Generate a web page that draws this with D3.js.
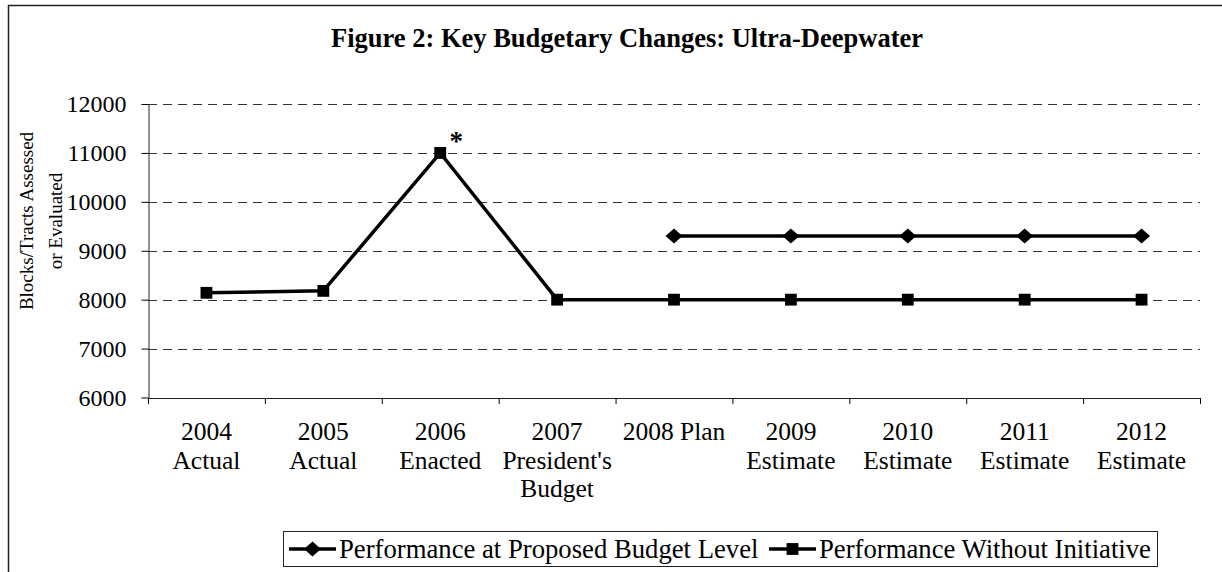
<!DOCTYPE html>
<meta charset="utf-8">
<style>
body { margin: 0; background: #fff; }
svg { display: block; }
text { font-family: "Liberation Serif", "Times New Roman", serif; fill: #000; }
</style>
<svg width="1222" height="572"></svg>
<script src="https://cdn.jsdelivr.net/npm/d3@7"></script>
<script>

// chart data
var categories = ["2004 Actual", "2005 Actual", "2006 Enacted", "2007 President's Budget",
  "2008 Plan", "2009 Estimate", "2010 Estimate", "2011 Estimate", "2012 Estimate"];
var categoryLines = [
  ["2004", "Actual"], ["2005", "Actual"], ["2006", "Enacted"], ["2007", "President's", "Budget"],
  ["2008 Plan"], ["2009", "Estimate"], ["2010", "Estimate"], ["2011", "Estimate"], ["2012", "Estimate"]
];
var proposedValues = [null, null, null, null, 9300, 9300, 9300, 9300, 9300];
var withoutValues = [8140, 8180, 11000, 8000, 8000, 8000, 8000, 8000, 8000];
var yTicks = [6000, 7000, 8000, 9000, 10000, 11000, 12000];
var seriesNames = ["Performance at Proposed Budget Level", "Performance Without Initiative"];

var svg = d3.select("svg");

var plotLeft = 148, plotRight = 1200, plotTop = 104, plotBottom = 397.5;

var x = d3.scaleBand().domain(categories).range([plotLeft, plotRight]);
var xEdge = d3.scaleLinear().domain([0, categories.length]).range([plotLeft, plotRight]);
var y = d3.scaleLinear().domain([6000, 12000]).range([plotBottom, plotTop]);

function cx(c) { return x(c) + x.bandwidth() / 2; }

// outer frame, cut off at right and bottom
svg.append("path")
    .attr("d", "M8.5,600V5.5H1230")
    .attr("fill", "none")
    .attr("stroke", "#222")
    .attr("stroke-width", 1.5);

svg.append("text")
    .attr("x", 627)
    .attr("y", 47)
    .attr("text-anchor", "middle")
    .style("font-weight", "bold")
    .style("font-size", "26.5px")
    .text("Figure 2: Key Budgetary Changes: Ultra-Deepwater");

// gridlines
svg.append("g")
    .selectAll("line")
    .data(yTicks.slice(1))
    .enter().append("line")
      .attr("x1", plotLeft)
      .attr("x2", plotRight)
      .attr("y1", function(d) { return Math.round(y(d)) + 0.5; })
      .attr("y2", function(d) { return Math.round(y(d)) + 0.5; })
      .attr("stroke", "#333")
      .attr("stroke-dasharray", "9,6");

// y axis
var yAxis = svg.append("g")
    .attr("transform", "translate(" + (plotLeft + 0.5) + ",0)")
    .call(d3.axisLeft(y).tickValues(yTicks).tickSize(7).tickSizeOuter(0).tickPadding(15)
      .tickFormat(function(d) { return d; }));
yAxis.selectAll("text").style("font-size", "24px").style("font-family", "Liberation Serif");
yAxis.select(".domain").attr("stroke", "#222");

// x axis, ticks between categories
var xAxis = svg.append("g")
    .attr("transform", "translate(0," + (plotBottom + 0.5) + ")")
    .call(d3.axisBottom(xEdge).tickValues(d3.range(categories.length + 1)).tickSize(6)
      .tickSizeOuter(0).tickFormat(""));
xAxis.select(".domain").attr("stroke", "#222");

var xLabels = svg.append("g")
    .selectAll("text")
    .data(categories)
    .enter().append("text")
      .attr("text-anchor", "middle")
      .style("font-size", "25.5px")
      .attr("y", 440);
xLabels.each(function(d, i) {
  var t = d3.select(this);
  categoryLines[i].forEach(function(line, j) {
    t.append("tspan")
        .attr("x", cx(d))
        .attr("dy", j === 0 ? 0 : 28.5)
        .text(line);
  });
});

// y axis title
svg.append("text")
    .attr("transform", "translate(33,221) rotate(-90)")
    .attr("text-anchor", "middle")
    .style("font-size", "19px")
    .selectAll("tspan")
    .data(["Blocks/Tracts Assessed", "or Evaluated"])
    .enter().append("tspan")
      .attr("x", 0)
      .attr("dy", function(d, i) { return i === 0 ? 0 : 29; })
      .text(function(d) { return d; });

// series
var line = d3.line()
    .defined(function(d) { return d.v != null; })
    .x(function(d) { return cx(d.c); })
    .y(function(d) { return y(d.v); });

function pts(values) {
  return values.map(function(v, i) { return { c: categories[i], v: v }; });
}

var diamondPath = "M0,-7.5L8.5,0L0,7.5L-8.5,0Z";
var square = d3.symbol().type(d3.symbolSquare).size(140);

[withoutValues, proposedValues].forEach(function(vals) {
  svg.append("path")
      .datum(pts(vals))
      .attr("fill", "none")
      .attr("stroke", "#000")
      .attr("stroke-width", 3.5)
      .attr("stroke-linejoin", "miter")
      .attr("d", line);
});

svg.append("g")
    .selectAll("path")
    .data(pts(withoutValues))
    .enter().append("path")
      .attr("transform", function(d) { return "translate(" + cx(d.c) + "," + y(d.v) + ")"; })
      .attr("d", square);

svg.append("g")
    .selectAll("path")
    .data(pts(proposedValues).filter(function(d) { return d.v != null; }))
    .enter().append("path")
      .attr("transform", function(d) { return "translate(" + cx(d.c) + "," + y(d.v) + ")"; })
      .attr("d", diamondPath);

// asterisk over the 2006 point
svg.append("text")
    .attr("x", cx(categories[2]) + 16)
    .attr("y", y(withoutValues[2]) - 3)
    .attr("text-anchor", "middle")
    .style("font-size", "27px")
    .style("font-weight", "bold")
    .text("*");

// legend
var legend = svg.append("g");
legend.append("rect")
    .attr("x", 283.5)
    .attr("y", 531.5)
    .attr("width", 874)
    .attr("height", 35)
    .attr("fill", "#fff")
    .attr("stroke", "#222");

var legendItems = [
  { name: seriesNames[0], x: 289, mark: "diamond" },
  { name: seriesNames[1], x: 769, mark: "square" }
];
legendItems.forEach(function(it) {
  legend.append("line")
      .attr("x1", it.x).attr("x2", it.x + 47)
      .attr("y1", 549).attr("y2", 549)
      .attr("stroke", "#000").attr("stroke-width", 3.5);
  legend.append("path")
      .attr("transform", "translate(" + (it.x + 23.5) + ",549)")
      .attr("d", it.mark === "diamond" ? diamondPath : square);
  legend.append("text")
      .attr("x", it.x + 50)
      .attr("y", 558)
      .style("font-size", "26.7px")
      .text(it.name);
});

</script>
